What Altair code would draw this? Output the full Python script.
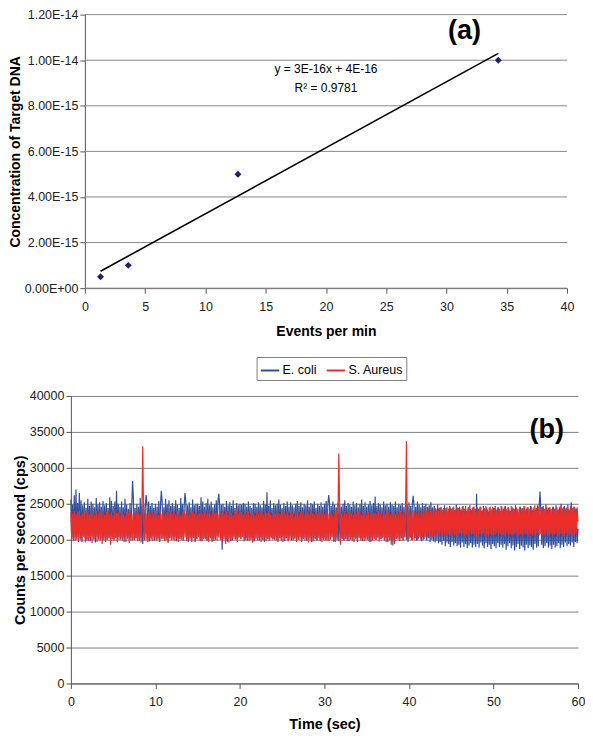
import altair as alt
import pandas as pd

FONT = "Liberation Sans"

# ---------------- Panel (a) data ----------------
events_per_min = [1.3, 3.6, 12.7, 34.3]
concentration = [5e-16, 1e-15, 5e-15, 1e-14]
a_x_ticks = [0, 5, 10, 15, 20, 25, 30, 35, 40]
a_y_ticks = [0, 2e-15, 4e-15, 6e-15, 8e-15, 1e-14, 1.2e-14]
a_y_labels = ["0.00E+00", "2.00E-15", "4.00E-15", "6.00E-15", "8.00E-15", "1.00E-14", "1.20E-14"]
equation_lines = ["y = 3E-16x + 4E-16", "R\u00b2 = 0.9781"]

# ---------------- Panel (b) data (counts per second, in hundreds) ----------------
time_step = 0.1
ecoli_hundreds = [
    256, 201, 249, 204, 262, 199, 270, 203, 251, 206, 265, 200, 255, 197, 248, 205, 252, 202, 244, 199, 257, 203, 247, 198, 253, 205, 250, 201, 245, 196,
    258, 204, 249, 200, 252, 207, 246, 202, 254, 199, 248, 204, 251, 200, 244, 202, 259, 199, 254, 205, 247, 201, 253, 203, 268, 198, 250, 204, 246, 200,
    253, 202, 245, 197, 257, 205, 249, 201, 243, 203, 251, 199, 247, 282, 255, 200, 244, 202, 250, 204, 246, 199, 258, 203, 248, 194, 252, 201, 245, 262,
    249, 200, 253, 198, 247, 202, 251, 205, 244, 199, 250, 203, 246, 200, 254, 197, 248, 268, 252, 201, 245, 199, 257, 203, 249, 196, 255, 202, 247, 205,
    251, 200, 247, 204, 255, 198, 249, 202, 244, 201, 258, 205, 250, 199, 246, 265, 253, 200, 248, 197, 252, 203, 245, 199, 256, 204, 248, 197, 250, 201,
    250, 205, 247, 200, 259, 198, 253, 203, 246, 201, 251, 199, 257, 204, 248, 202, 253, 197, 245, 203, 249, 200, 255, 205, 252, 264, 247, 202, 249, 186,
    250, 204, 246, 200, 254, 197, 248, 203, 252, 198, 247, 199, 255, 204, 244, 201, 251, 200, 248, 203, 250, 201, 249, 204, 251, 198, 250, 202, 246, 199,
    253, 203, 247, 200, 244, 196, 251, 198, 250, 201, 246, 203, 252, 199, 248, 202, 245, 200, 254, 197, 249, 203, 266, 201, 247, 199, 255, 204, 244, 201,
    251, 200, 248, 203, 250, 197, 256, 202, 249, 199, 244, 204, 251, 198, 247, 202, 253, 200, 246, 205, 252, 199, 248, 201, 245, 203, 250, 197, 254, 200,
    247, 204, 252, 198, 245, 201, 250, 203, 248, 199, 255, 202, 246, 200, 251, 197, 249, 204, 253, 201, 244, 199, 250, 203, 247, 198, 252, 202, 246, 200,
    250, 203, 254, 199, 248, 262, 251, 200, 247, 204, 253, 197, 249, 202, 245, 200, 252, 198, 248, 203, 246, 201, 250, 199, 255, 204, 247, 201, 251, 198,
    249, 203, 246, 200, 253, 197, 248, 202, 251, 199, 245, 204, 250, 201, 256, 198, 247, 202, 252, 200, 246, 203, 249, 199, 254, 197, 248, 202, 251, 204,
    260, 200, 247, 203, 251, 198, 249, 201, 245, 204, 253, 199, 248, 202, 250, 197, 246, 203, 252, 200, 249, 192, 247, 198, 253, 201, 245, 203, 250, 199,
    248, 202, 251, 199, 246, 204, 253, 200, 249, 197, 252, 203, 247, 200, 250, 261, 248, 202, 246, 199, 253, 201, 249, 204, 245, 198, 251, 200, 247, 203,
    250, 199, 246, 202, 248, 197, 252, 200, 245, 198, 247, 196, 243, 199, 249, 195, 244, 197, 246, 193, 242, 199, 248, 191, 244, 196, 240, 194, 247, 190,
    243, 197, 245, 192, 241, 195, 249, 191, 244, 193, 246, 189, 242, 196, 247, 190, 243, 194, 240, 188, 245, 192, 248, 195, 241, 189, 246, 193, 243, 190,
    264, 194, 243, 189, 246, 196, 240, 192, 247, 188, 242, 195, 245, 190, 239, 193, 246, 187, 241, 194, 244, 191, 247, 188, 242, 195, 245, 190, 240, 193,
    246, 189, 243, 194, 247, 186, 241, 191, 245, 195, 240, 188, 246, 192, 243, 185, 248, 190, 242, 194, 239, 187, 246, 192, 244, 189, 247, 185, 241, 193,
    245, 188, 243, 192, 247, 190, 241, 186, 246, 194, 242, 189, 248, 191, 244, 267, 240, 193, 246, 188, 243, 191, 249, 195, 242, 189, 245, 192, 241, 187,
    246, 193, 243, 189, 248, 191, 242, 195, 245, 188, 250, 193, 243, 190, 247, 196, 244, 191, 249, 194, 241, 192, 252, 196, 244, 190, 246, 197, 243, 195,
    215,
]
saureus_hundreds = [
    238, 201, 236, 198, 240, 203, 235, 200, 239, 197, 241, 202, 234, 199, 237, 204, 240, 196, 236, 201, 239, 198, 235, 202, 241, 195, 237, 200, 234, 203,
    240, 197, 236, 201, 238, 199, 242, 194, 237, 202, 235, 197, 239, 200, 240, 203, 236, 193, 239, 201, 234, 198, 241, 202, 237, 196, 238, 200, 235, 203,
    240, 199, 236, 202, 233, 197, 239, 201, 237, 195, 241, 203, 235, 199, 238, 200, 236, 202, 240, 198, 237, 201, 235, 196, 239, 330, 234, 199, 241, 200,
    236, 197, 238, 202, 235, 200, 239, 198, 236, 203, 240, 199, 237, 202, 234, 197, 238, 201, 236, 203, 241, 198, 235, 200, 239, 196, 237, 202, 240, 199,
    236, 203, 239, 198, 235, 201, 240, 197, 237, 202, 234, 200, 238, 199, 241, 203, 236, 198, 239, 201, 235, 200, 238, 197, 240, 202, 236, 199, 239, 201,
    235, 203, 237, 198, 241, 200, 236, 201, 238, 202, 236, 199, 241, 197, 237, 203, 234, 200, 240, 198, 236, 202, 238, 199, 235, 203, 240, 200, 237, 198,
    241, 201, 236, 194, 239, 200, 235, 196, 240, 199, 237, 202, 234, 201, 238, 200, 242, 197, 236, 203, 240, 201, 238, 204, 235, 202, 239, 199, 236, 201,
    239, 198, 235, 202, 241, 197, 237, 200, 234, 203, 240, 199, 236, 202, 238, 197, 241, 200, 235, 203, 239, 198, 237, 201, 240, 199, 236, 202, 234, 200,
    238, 203, 236, 199, 241, 198, 237, 202, 235, 200, 240, 197, 238, 201, 236, 203, 239, 198, 235, 200, 241, 202, 237, 199, 234, 201, 238, 198, 240, 203,
    236, 200, 239, 197, 237, 202, 235, 199, 240, 201, 238, 196, 236, 203, 241, 200, 237, 198, 235, 202, 239, 199, 236, 203, 238, 200, 240, 197, 237, 201,
    235, 199, 239, 202, 236, 198, 240, 201, 237, 203, 234, 200, 238, 197, 241, 202, 236, 320, 239, 193, 237, 202, 235, 199, 240, 201, 236, 198, 238, 203,
    241, 200, 237, 198, 235, 203, 239, 201, 236, 197, 240, 202, 238, 199, 234, 201, 241, 198, 237, 203, 235, 200, 239, 197, 236, 202, 240, 199, 237, 201,
    238, 199, 236, 203, 240, 198, 237, 201, 235, 202, 239, 200, 236, 197, 241, 203, 238, 199, 235, 193, 237, 201, 240, 194, 236, 203, 239, 200, 237, 198,
    241, 202, 236, 199, 238, 203, 240, 337, 200, 238, 201, 239, 203, 236, 199, 241, 200, 238, 202, 236, 199, 240, 203, 237, 200, 239, 204, 238, 201, 243,
    205, 240, 204, 242, 202, 239, 205, 243, 203, 240, 206, 244, 204, 241, 207, 243, 205, 245, 206, 241, 204, 244, 208, 242, 205, 246, 207, 243, 204, 245,
    206, 243, 208, 246, 205, 242, 207, 245, 204, 244, 209, 241, 206, 246, 208, 243, 205, 247, 207, 242, 204, 245, 209, 243, 206, 244, 208, 246, 205, 242,
    207, 245, 204, 243, 208, 246, 206, 241, 209, 244, 205, 247, 207, 242, 204, 245, 208, 243, 206, 246, 203, 244, 207, 242, 209, 245, 206, 243, 208, 247,
    205, 242, 207, 246, 204, 243, 209, 245, 206, 241, 208, 247, 205, 244, 207, 242, 209, 245, 204, 243, 206, 246, 208, 242, 205, 244, 207, 247, 209, 243,
    206, 245, 204, 242, 208, 246, 205, 243, 207, 248, 204, 244, 209, 246, 206, 243, 208, 245, 205, 247, 207, 242, 209, 246, 206, 244, 204, 245, 208, 243,
    205, 246, 207, 243, 209, 245, 204, 242, 206, 247, 208, 244, 205, 246, 207, 242, 209, 245, 204, 243, 206, 247, 208, 244, 205, 246, 207, 243, 209, 245,
    225,
]
series_names = ["E. coli", "S. Aureus"]
series_colors = ["#2f4f9f", "#ec2e2a"]
b_x_ticks = [0, 10, 20, 30, 40, 50, 60]
b_y_ticks = [0, 5000, 10000, 15000, 20000, 25000, 30000, 35000, 40000]

# ---------------- Panel (a) ----------------
df_a = pd.DataFrame({"events": events_per_min, "conc": concentration})
df_grid_a = pd.DataFrame({"tick": a_y_ticks})
one_row = pd.DataFrame({"k": [0]})
label_expr = "[" + ",".join("'%s'" % s for s in a_y_labels) + "][round(datum.value / 2e-15)]"

A_OFF = 14
A_W = 497
x_a = alt.Scale(domain=[0, 40], range=[A_OFF, A_W], nice=False, zero=False)
y_a = alt.Scale(domain=[0, 1.2e-14], nice=False)
ax_a_y = alt.Axis(values=a_y_ticks, labelExpr=label_expr, offset=-A_OFF,
                  title="Concentration of Target DNA", titlePadding=2, labelPadding=2,
                  titleFontSize=14, grid=False)
ax_a_x = alt.Axis(values=a_x_ticks, title="Events per min", grid=False,
                  labelFlush=False, labelPadding=7, titlePadding=12, titleFontSize=14)

grid_a = alt.Chart(df_grid_a).mark_rule(color="#8a8a8a", strokeWidth=1).encode(
    y=alt.Y("tick:Q", scale=y_a, axis=ax_a_y),
    x=alt.datum(0, scale=x_a, axis=ax_a_x),
    x2=alt.datum(40),
)

trend_a = alt.Chart(df_a).transform_regression("events", "conc").mark_line(
    color="black", strokeWidth=1.6
).encode(x=alt.X("events:Q", scale=x_a, axis=ax_a_x), y=alt.Y("conc:Q", scale=y_a, axis=ax_a_y))

points_a = alt.Chart(df_a).mark_point(
    shape="diamond", filled=True, size=48, color="#1f1f75", opacity=1
).encode(x=alt.X("events:Q", scale=x_a, axis=ax_a_x), y=alt.Y("conc:Q", scale=y_a, axis=ax_a_y))

eq1 = alt.Chart(one_row).mark_text(font=FONT, fontSize=12, fontWeight="normal", color="black").encode(
    x=alt.datum(20.0), y=alt.datum(9.61e-15), text=alt.value(equation_lines[0])
)
eq2 = alt.Chart(one_row).mark_text(font=FONT, fontSize=12, fontWeight="normal", color="black").encode(
    x=alt.datum(20.0), y=alt.datum(8.78e-15), text=alt.value(equation_lines[1])
)
label_a = alt.Chart(one_row).mark_text(font=FONT, fontSize=27, fontWeight="bold", color="black").encode(
    x=alt.datum(31.5), y=alt.datum(1.128e-14), text=alt.value("(a)")
)

panel_a = alt.layer(grid_a, trend_a, points_a, eq1, eq2, label_a).properties(width=A_W, height=274)

# ---------------- Panel (b) ----------------
n = len(ecoli_hundreds)
times = [round(i * time_step, 1) for i in range(n)]
df_b = pd.concat([
    pd.DataFrame({"t": times, "cps": [v * 100 for v in ecoli_hundreds], "series": series_names[0]}),
    pd.DataFrame({"t": times, "cps": [v * 100 for v in saureus_hundreds], "series": series_names[1]}),
])

x_b = alt.Scale(domain=[0, 60], nice=False)
y_b = alt.Scale(domain=[0, 40000], nice=False)
ax_b_x = alt.Axis(values=b_x_ticks, title="Time (sec)", grid=False, labelFlush=False,
                  labelPadding=7, titlePadding=10, titleFontSize=14.5)
ax_b_y = alt.Axis(values=b_y_ticks, format="d", title="Counts per second (cps)",
                  titlePadding=2, labelPadding=2, titleFontSize=14.5, grid=True,
                  gridColor="#808080", gridWidth=1)

lines_b = alt.Chart(df_b).mark_line(strokeWidth=1.2).encode(
    x=alt.X("t:Q", scale=x_b, axis=ax_b_x),
    y=alt.Y("cps:Q", scale=y_b, axis=ax_b_y),
    color=alt.Color("series:N", scale=alt.Scale(domain=series_names, range=series_colors),
                    legend=alt.Legend(orient="none", legendX=186, legendY=-39, direction="horizontal",
                                      title=None, symbolType="stroke", symbolSize=340,
                                      symbolStrokeWidth=2, labelFontSize=12.5, labelFont=FONT,
                                      labelColor="black", strokeColor="#7f7f7f", fillColor="white",
                                      padding=3, columnPadding=5, labelOffset=2)),
    order=alt.Order("t:Q"),
)

label_b = alt.Chart(one_row).mark_text(font=FONT, fontSize=27, fontWeight="bold", color="black").encode(
    x=alt.datum(56.3, scale=x_b, axis=ax_b_x), y=alt.datum(35245, scale=y_b, axis=ax_b_y),
    text=alt.value("(b)")
)

panel_b = alt.layer(lines_b, label_b).properties(width=508, height=288)

chart = alt.vconcat(panel_a, panel_b, spacing=17).resolve_scale(
    color="independent"
).resolve_legend(color="independent").properties(
    padding={"left": 0, "top": 0, "right": 0, "bottom": 0}
).configure_view(stroke=None).configure_axis(
    labelFont=FONT, titleFont=FONT, labelFontSize=12.5, labelColor="#222222",
    titleColor="black", titleFontWeight="bold", domainColor="#555555", tickColor="#555555",
    tickSize=5, labelPadding=3, domainWidth=1, labelOverlap=False
)

chart.save("out.html", embed_options={"renderer": "svg", "actions": False})
